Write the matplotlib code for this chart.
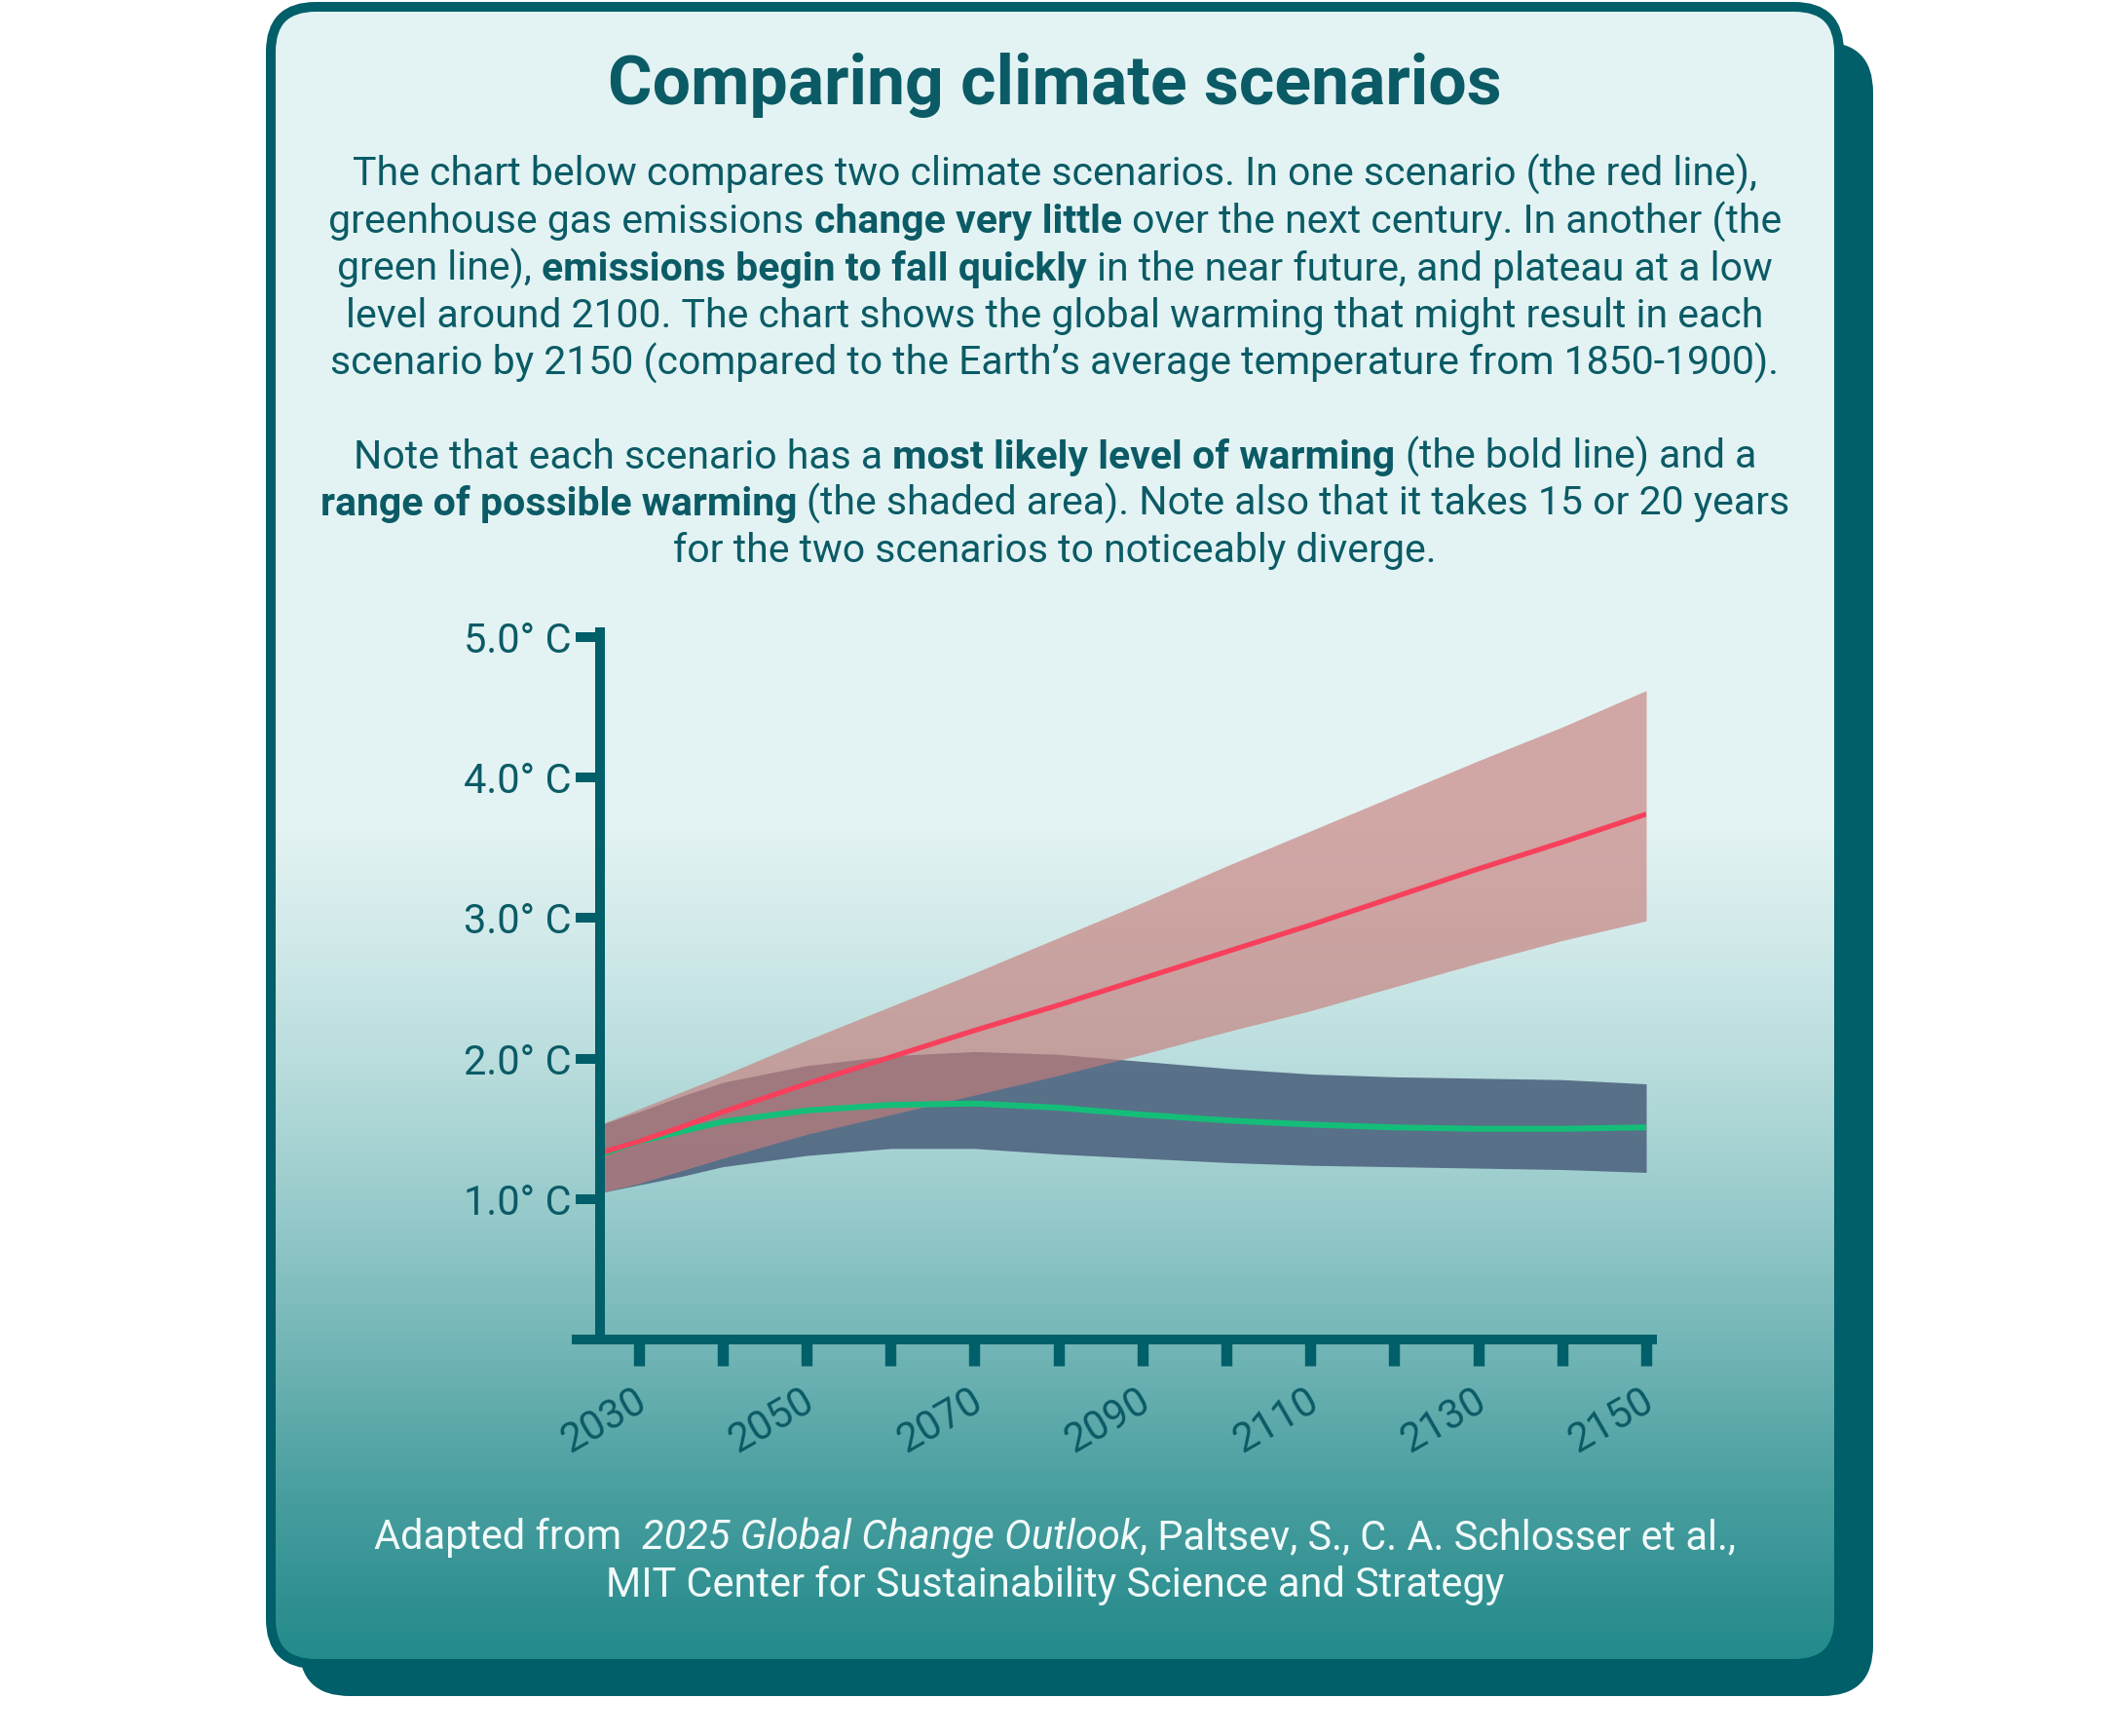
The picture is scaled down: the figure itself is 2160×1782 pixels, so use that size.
import numpy as np
import matplotlib
matplotlib.use("Agg")
import matplotlib.pyplot as plt
import matplotlib.transforms as mtransforms
from matplotlib.patches import FancyBboxPatch

# ---- data ----
years = [2025, 2030, 2035, 2040, 2050, 2060, 2070, 2080, 2090, 2100, 2110, 2120, 2130, 2140, 2150]
high_mid = [1.32, 1.41, 1.51, 1.62, 1.82, 2.01, 2.20, 2.38, 2.57, 2.76, 2.95, 3.15, 3.35, 3.54, 3.74]
high_upper = [1.52, 1.64, 1.76, 1.88, 2.13, 2.37, 2.61, 2.86, 3.11, 3.37, 3.62, 3.87, 4.12, 4.36, 4.62]
high_lower = [1.04, 1.11, 1.20, 1.29, 1.46, 1.60, 1.74, 1.88, 2.03, 2.19, 2.34, 2.51, 2.68, 2.84, 2.98]
low_mid = [1.31, 1.41, 1.48, 1.55, 1.63, 1.67, 1.68, 1.65, 1.60, 1.56, 1.53, 1.51, 1.50, 1.50, 1.51]
low_upper = [1.52, 1.62, 1.73, 1.83, 1.95, 2.02, 2.05, 2.03, 1.98, 1.93, 1.89, 1.87, 1.86, 1.85, 1.82]
low_lower = [1.04, 1.10, 1.16, 1.23, 1.31, 1.36, 1.36, 1.32, 1.29, 1.26, 1.24, 1.23, 1.22, 1.21, 1.19]

y_ticks = [1, 2, 3, 4, 5]
y_labels = ["1.0° C", "2.0° C", "3.0° C", "4.0° C", "5.0° C"]
x_major = list(range(2030, 2151, 20))
x_minor = list(range(2040, 2141, 20))

title = "Comparing climate scenarios"
# (text, style) runs: "n" normal, "b" bold, "i" italic
intro_lines = [
    [("The chart below compares two climate scenarios. In one scenario (the red line),", "n")],
    [("greenhouse gas emissions ", "n"), ("change very little", "b"), (" over the next century. In another (the", "n")],
    [("green line), ", "n"), ("emissions begin to fall quickly", "b"), (" in the near future, and plateau at a low", "n")],
    [("level around 2100. The chart shows the global warming that might result in each", "n")],
    [("scenario by 2150 (compared to the Earth\u2019s average temperature from 1850-1900).", "n")],
    [],
    [("Note that each scenario has a ", "n"), ("most likely level of warming", "b"), (" (the bold line) and a", "n")],
    [("range of possible warming", "b"), (" (the shaded area). Note also that it takes 15 or 20 years", "n")],
    [("for the two scenarios to noticeably diverge.", "n")],
]
source_lines = [
    [("Adapted from  ", "n"), ("2025 Global Change Outlook", "i"), (", Paltsev, S., C. A. Schlosser et al.,", "n")],
    [("MIT Center for Sustainability Science and Strategy", "n")],
]

FONT = "Roboto"
DARK = "#005f69"
TEXT = "#0b5b66"

W, H, DPI = 2160, 1782, 200
fig = plt.figure(figsize=(W / DPI, H / DPI), dpi=DPI)
fig.patch.set_facecolor("white")

# full-figure axes in pixel units (y down) for the card and texts
bg = fig.add_axes([0, 0, 1, 1])
bg.set_xlim(0, W)
bg.set_ylim(H, 0)
bg.axis("off")

# shadow card
shadow = FancyBboxPatch((307, 43), 1616, 1698, boxstyle="round,pad=0,rounding_size=52",
                        facecolor=DARK, edgecolor="none", zorder=0)
bg.add_patch(shadow)

# front card with vertical gradient
card = FancyBboxPatch((278, 7), 1610, 1701, boxstyle="round,pad=0,rounding_size=46",
                      facecolor="none", edgecolor=DARK, linewidth=3.6, zorder=2)
bg.add_patch(card)
stops_y = [0, 850, 960, 1100, 1243, 1386, 1528, 1671, 1713]
stops_c = ["#e4f4f4", "#e3f3f3", "#d2eaea", "#b8dcdc", "#97cacb", "#72b5b6", "#4a9fa0", "#2a8d8e", "#228a8b"]
rows = np.arange(0, 1714)
rgb = np.array([matplotlib.colors.to_rgb(c) for c in stops_c])
grad = np.stack([np.interp(rows, stops_y, rgb[:, k]) for k in range(3)], axis=-1)[:, None, :]
img = bg.imshow(grad, extent=[273, 1893, 1713, 0], aspect="auto", zorder=1, interpolation="bilinear")
img.set_clip_path(card)

fig.canvas.draw()
renderer = fig.canvas.get_renderer()


def text_width(s, kind, size):
    t = bg.text(0, 0, s, fontsize=size, family=FONT,
                fontweight="bold" if kind == "b" else "normal",
                fontstyle="italic" if kind == "i" else "normal")
    w = t.get_window_extent(renderer).width
    t.remove()
    return w


def draw_line(runs, y, size, color, cx=1083):
    space = text_width("a a", "n", size) - text_width("aa", "n", size)
    parts = []
    total = 0
    for s, kind in runs:
        lead = len(s) - len(s.lstrip(" "))
        trail = len(s) - len(s.rstrip(" "))
        core = s.strip(" ")
        w = text_width(core, kind, size)
        parts.append((core, kind, lead * space, w, trail * space))
        total += lead * space + w + trail * space
    x = cx - total / 2
    for core, kind, lead, w, trail in parts:
        x += lead
        bg.text(x, y, core, fontsize=size, family=FONT, color=color, ha="left", va="baseline",
                fontweight="bold" if kind == "b" else "normal",
                fontstyle="italic" if kind == "i" else "normal", zorder=5)
        x += w + trail


bg.text(1083, 107, title, fontsize=25.1, family=FONT, fontweight="bold", color=TEXT,
        ha="center", va="baseline", zorder=5)
for i, runs in enumerate(intro_lines):
    if runs:
        draw_line(runs, 191 + i * 48.3, 14.75, TEXT)
for i, runs in enumerate(source_lines):
    draw_line(runs, 1590 + i * 49, 14.95, "#f2fafa")

# ---- chart ----
left, right, top, bottom = 616, 1690, 654, 1375
ax = fig.add_axes([left / W, 1 - bottom / H, (right - left) / W, (bottom - top) / H])
ax.set_facecolor("none")
ax.set_xlim(2025.4, 2150)
ax.set_ylim(0, 5)

ax.fill_between(years, low_lower, low_upper, color="#4f6580", alpha=0.9, linewidth=0, zorder=1)
ax.fill_between(years, high_lower, high_upper, color="#c77e7b", alpha=0.65, linewidth=0, zorder=2)
ax.plot(years, low_mid, color="#14be78", linewidth=2.2, zorder=3, solid_capstyle="butt")
ax.plot(years, high_mid, color="#f7405c", linewidth=1.9, zorder=4, solid_capstyle="butt")

for side in ["top", "right"]:
    ax.spines[side].set_visible(False)
for side in ["left", "bottom"]:
    ax.spines[side].set_color(DARK)
    ax.spines[side].set_linewidth(3.6)
    ax.spines[side].set_zorder(10)
ax.spines["left"].set_bounds(0, 5.035)
ax.spines["bottom"].set_bounds(2022.6, 2150.64)

ax.set_yticks(y_ticks)
ax.set_yticklabels(y_labels)
ax.tick_params(axis="y", direction="out", length=9.0, width=3.6, color=DARK, pad=1.5,
               labelsize=15, labelcolor=TEXT)
ax.set_xticks(x_major)
ax.set_xticks(x_minor, minor=True)
ax.set_xticklabels([str(v) for v in x_major], rotation=30, ha="right")
ax.tick_params(axis="x", which="both", direction="out", length=9.7, width=4.1, color=DARK, pad=5.5,
               labelsize=15, labelcolor=TEXT)
shift = mtransforms.ScaledTranslation(15 / DPI, 0, fig.dpi_scale_trans)
for lab in ax.get_xticklabels() + ax.get_yticklabels():
    lab.set_family(FONT)
for lab in ax.get_xticklabels():
    lab.set_transform(lab.get_transform() + shift)

fig.savefig("out.png", dpi=DPI)
